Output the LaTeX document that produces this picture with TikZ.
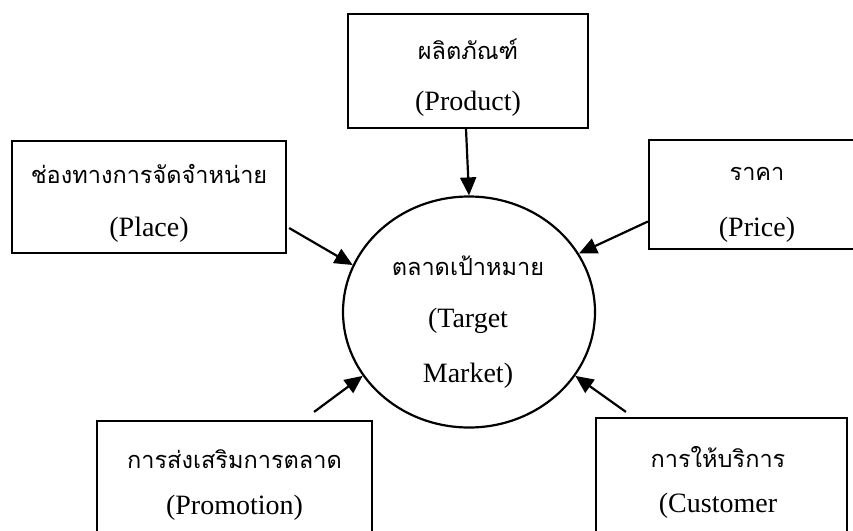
\documentclass[tikz,border=0pt]{standalone}
\usepackage{fontspec}
\setmainfont{Liberation Serif}
\newfontfamily\thai[Script=Thai,Scale=0.84]{Loma}
\usetikzlibrary{shapes.geometric,arrows.meta,calc}
\tikzset{
  box/.style={draw,line width=2.2pt,rectangle,inner sep=0pt},
  target/.style={draw,line width=2.2pt,ellipse,inner sep=0pt,
    minimum width=252pt,minimum height=231pt},
  lat/.style={inner sep=0pt,font=\fontsize{28}{34}\selectfont},
  th/.style={inner sep=0pt,font=\fontsize{28}{34}\selectfont\thai},
  arr/.style={line width=2.2pt,-{Triangle[length=18pt,width=16pt]}}
}
\begin{document}
\begin{tikzpicture}[x=1pt,y=-1pt]
\clip (0,0) rectangle (853,530);
\fill[white] (0,0) rectangle (853,530);
\node[target] (tm) at (469,312) {};
\node[th] (tm1) at (468,266) {ตลาดเป้าหมาย};
\node[lat] (tm2) at (468,321) {(Target};
\node[lat] (tm3) at (468,376) {Market)};
\node[box,minimum width=240pt,minimum height=114pt] (product) at (468,71) {};
\node[th] (product1) at (468,49) {ผลิตภัณฑ์};
\node[lat] (product2) at (468,104) {(Product)};
\node[box,minimum width=274pt,minimum height=112pt] (place) at (149,197) {};
\node[th] (place1) at (149,174) {ช่องทางการจัดจำหน่าย};
\node[lat] (place2) at (149,230) {(Place)};
\node[box,minimum width=216pt,minimum height=109pt] (price) at (757,194.5) {};
\node[th] (price1) at (757,174) {ราคา};
\node[lat] (price2) at (757,230) {(Price)};
\node[box,minimum width=275pt,minimum height=126pt] (promo) at (234.5,484) {};
\node[th] (promo1) at (234.5,459) {การส่งเสริมการตลาด};
\node[lat] (promo2) at (234.5,508) {(Promotion)};
\node[box,minimum width=251pt,minimum height=128pt] (cust) at (721.5,482) {};
\node[th] (cust1) at (718,457) {การให้บริการ};
\node[lat] (cust2) at (718,506) {(Customer};
\draw[arr] ($(product.south)+(-2,0)$) -- (tm.north);
\draw[arr] ($(place.east)+(2,31)$) -- (tm.158);
\draw[arr] ($(price.west)+(0,27)$) -- (tm.28);
\draw[arr] ($(promo.north east)+(-59,-8)$) -- (tm.211);
\draw[arr] ($(cust.north west)+(31,-5)$) -- (tm.329);
\end{tikzpicture}
\end{document}
